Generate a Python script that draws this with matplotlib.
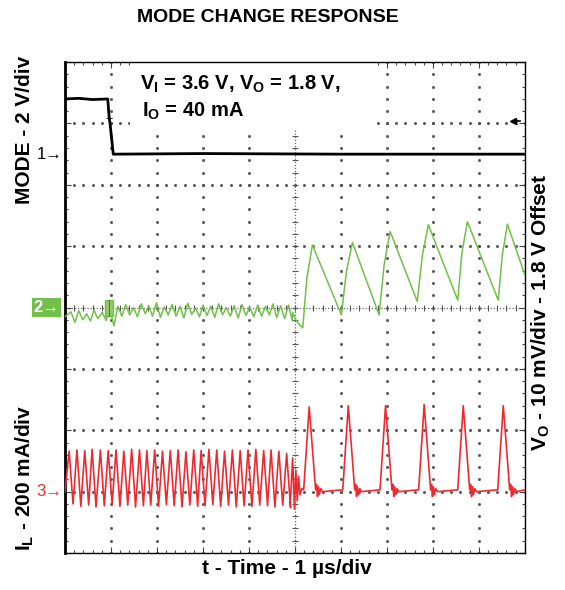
import matplotlib
matplotlib.use('Agg')
import matplotlib.pyplot as plt
import numpy as np
from matplotlib.patches import Rectangle

plt.rcParams['font.family'] = ['Liberation Sans', 'DejaVu Sans']
plt.rcParams['mathtext.fontset'] = 'custom'
plt.rcParams['mathtext.rm'] = 'Liberation Sans:bold'
plt.rcParams['mathtext.it'] = 'Liberation Sans:bold'
plt.rcParams['mathtext.bf'] = 'Liberation Sans:bold'

# all values in scope divisions (x: 0..10, y: 0..8)

# channel 1 - MODE signal
mode_t = [0.0, 0.30, 0.60, 0.93, 0.96, 0.98, 1.05, 3.0, 6.0, 10.0]
mode_v = [7.40, 7.41, 7.39, 7.40, 7.10, 7.00, 6.50, 6.51, 6.50, 6.50]

# PWM part (switching cycles before the mode change)
pwm_t = [0.09, 0.26, 0.43, 0.59, 0.77, 0.94, 1.11, 1.28, 1.45, 1.62,
         1.78, 1.95, 2.12, 2.29, 2.46, 2.63, 2.80, 2.96, 3.13, 3.30,
         3.47, 3.64, 3.81, 3.98, 4.15, 4.32, 4.48, 4.65, 4.82]
il_pwm_peak = [1.66, 1.68, 1.67, 1.69, 1.68, 1.67, 1.68, 1.66, 1.69, 1.68,
               1.67, 1.68, 1.66, 1.67, 1.68, 1.65, 1.68, 1.67, 1.69, 1.68,
               1.66, 1.68, 1.67, 1.68, 1.69, 1.67, 1.68, 1.66, 1.62]
il_pwm_valley = [0.80, 0.76, 0.78, 0.75, 0.77, 0.79, 0.76, 0.78, 0.75, 0.77,
                 0.78, 0.76, 0.79, 0.77, 0.75, 0.78, 0.76, 0.77, 0.79, 0.76,
                 0.78, 0.75, 0.77, 0.76, 0.78, 0.77, 0.75, 0.78, 0.74]
vo_pwm_hi = [3.93, 3.95, 3.90, 3.96, 3.92, 3.97, 4.02, 4.05, 4.00, 4.06,
             4.03, 4.08, 4.01, 4.05, 4.02, 4.07, 3.99, 4.04, 4.02, 4.06,
             4.00, 4.03, 4.05, 4.01, 4.04, 4.02, 4.06, 4.03, 4.04]
vo_pwm_lo = [3.76, 3.80, 3.78, 3.82, 3.79, 3.70, 3.86, 3.88, 3.85, 3.90,
             3.86, 3.84, 3.88, 3.86, 3.83, 3.89, 3.85, 3.87, 3.84, 3.88,
             3.86, 3.83, 3.87, 3.85, 3.86, 3.88, 3.84, 3.82, 3.78]

# transition region
il_trans_t = [4.90, 4.95, 4.99, 5.02, 5.05, 5.08, 5.11, 5.15]
il_trans_v = [0.80, 1.55, 0.72, 1.35, 0.85, 1.25, 0.95, 1.05]
vo_trans_t = [4.95, 5.02, 5.10]
vo_trans_v = [3.92, 3.80, 3.72]

# PFM part - inductor current pulses
pfm_start = [5.19, 6.04, 6.85, 7.69, 8.54, 9.41]
pfm_peak_t = [5.31, 6.16, 6.97, 7.81, 8.66, 9.53]
pfm_peak_v = [2.38, 2.40, 2.40, 2.42, 2.40, 2.40]
pfm_end = [5.45, 6.30, 7.11, 7.95, 8.80, 9.67]
ring_dt = [0.02, 0.04, 0.06, 0.08, 0.11, 0.15]
ring_v = [1.12, 0.92, 1.08, 0.95, 1.05, 1.00]
il_base = 1.03

# PFM part - output voltage sawtooth (trough, knee of the rise, peak)
vo_trough_t = [5.17, 6.01, 6.83, 7.66, 8.54, 9.42]
vo_trough_v = [3.67, 3.88, 3.88, 4.10, 4.12, 4.12]
vo_knee_t = [5.26, 6.12, 6.94, 7.77, 8.63, 9.51]
vo_knee_v = [4.48, 4.59, 4.70, 4.85, 4.89, 4.86]
vo_peak_t = [5.38, 6.25, 7.07, 7.90, 8.75, 9.62]
vo_peak_v = [5.02, 5.06, 5.24, 5.35, 5.40, 5.36]
vo_end = (10.0, 4.53)


def build_il():
    t, v = [0.0], [1.00]
    for tp, pk, vl in zip(pwm_t, il_pwm_peak, il_pwm_valley):
        t += [tp, tp + 0.085]
        v += [pk, vl]
    t += il_trans_t
    v += il_trans_v
    for s, tp, pk, e in zip(pfm_start, pfm_peak_t, pfm_peak_v, pfm_end):
        t += [s, tp, e]
        v += [il_base, pk, il_base]
        t += [e + d for d in ring_dt]
        v += ring_v
    t += [10.0]
    v += [il_base]
    return np.array(t), np.array(v)


def build_vo():
    t, v = [0.0], [3.85]
    for tp, hi, lo in zip(pwm_t, vo_pwm_hi, vo_pwm_lo):
        t += [tp + 0.04, tp + 0.125]
        v += [hi, lo]
    t += vo_trans_t
    v += vo_trans_v
    for tt, tv, kt, kv, pt, pv in zip(vo_trough_t, vo_trough_v, vo_knee_t,
                                      vo_knee_v, vo_peak_t, vo_peak_v):
        t += [tt, kt, pt]
        v += [tv, kv, pv]
    t += [vo_end[0]]
    v += [vo_end[1]]
    return np.array(t), np.array(v)


fig = plt.figure(figsize=(5.65, 5.90), dpi=100)
ax = fig.add_axes([0.115, 0.0627, 0.814, 0.832])
ax.set_xlim(0, 10)
ax.set_ylim(0, 8)

# scope graticule
dot_pos = np.arange(0, 10.01, 0.2)
ys = np.arange(0, 8.01, 0.2)
for gx in range(1, 10):
    if gx == 5:
        continue
    ax.plot(np.full_like(ys, gx), ys, ls='none', marker='s', ms=1.0,
            color='#555555', zorder=1)
for gy in range(1, 8):
    if gy == 4:
        continue
    ax.plot(dot_pos, np.full_like(dot_pos, gy), ls='none', marker='s', ms=1.0,
            color='#555555', zorder=1)
ax.axvline(5, color='#666666', lw=0.9, ls=(0, (1, 1.5)), zorder=1)
ax.axhline(4, color='#666666', lw=0.9, ls=(0, (1, 1.5)), zorder=1)
ax.plot(np.full_like(ys, 5), ys, ls='none', marker='_', ms=4, mew=0.8,
        color='#555555', zorder=1)
ax.plot(dot_pos, np.full_like(dot_pos, 4), ls='none', marker='|', ms=4, mew=0.8,
        color='#555555', zorder=1)

ax.set_xticks(range(0, 11))
ax.set_yticks(range(0, 9))
ax.set_xticks(dot_pos, minor=True)
ax.set_yticks(ys, minor=True)
ax.tick_params(which='both', direction='in', top=True, right=True,
               labelbottom=False, labelleft=False, color='#444444', width=0.8)
ax.tick_params(which='major', length=4)
ax.tick_params(which='minor', length=2.5)
for side in ['top', 'right', 'bottom']:
    ax.spines[side].set_linewidth(1.0)
ax.spines['left'].set_linewidth(2.0)

# white box behind the test conditions
ax.add_patch(Rectangle((1.42, 6.90), 5.30, 1.10, facecolor='white',
                       edgecolor='none', zorder=2))

# traces
ax.plot(mode_t, mode_v, color='black', lw=2.0, zorder=4)
vt, vv = build_vo()
ax.plot(vt, vv, color='#72c04a', lw=1.1, zorder=3)
it, iv = build_il()
ax.plot(it, iv, color='#ee2a30', lw=1.2, zorder=3)

# markers
ax.text(0.96, 7.06, '+', ha='center', va='center', fontsize=9, color='black', zorder=5)
ax.add_patch(Rectangle((0.87, 3.87), 0.18, 0.26, facecolor='#8fcf6a',
                       edgecolor='#72c04a', zorder=5))
ax.plot([0.96, 0.96], [3.87, 4.13], color='#ee2a30', lw=0.8, zorder=6)
ax.plot([9.75], [7.04], marker='<', color='black', ms=5, zorder=5)
ax.plot([9.75, 9.9], [7.04, 7.04], color='black', lw=1.2, zorder=5)

ytr = ax.get_yaxis_transform()
ax.text(-0.006, 6.5, '1\u2192', transform=ytr, ha='right', va='center',
        fontsize=12, color='black')
ax.text(-0.012, 4.0, '2\u2192', transform=ytr, ha='right', va='center',
        fontsize=12, color='white', fontweight='bold',
        bbox=dict(boxstyle='square,pad=0.12', facecolor='#72c04a', edgecolor='none'))
ax.text(-0.006, 1.0, '3\u2192', transform=ytr, ha='right', va='center',
        fontsize=12, color='#ee2a30')

# annotation
ax.text(1.63, 7.63, 'V$_I$ = 3.6 V, V$_O$ = 1.8 V,', fontsize=14.5,
        fontweight='bold', va='center', ha='left', zorder=6)
ax.text(1.67, 7.19, 'I$_O$ = 40 mA', fontsize=14.5,
        fontweight='bold', va='center', ha='left', zorder=6)

# labels
fig.text(0.4735, 1 - 17 / 590, 'MODE CHANGE RESPONSE', ha='center', va='center',
         fontsize=14, fontweight='bold')
fig.text(0.044, 1 - 130 / 590, 'MODE - 2 V/div', rotation=90, ha='center',
         va='center', fontsize=15, fontweight='bold')
fig.text(0.044, 1 - 478 / 590, 'I$_L$ - 200 mA/div', rotation=90, ha='center',
         va='center', fontsize=15, fontweight='bold')
fig.text(0.957, 1 - 312 / 590, 'V$_O$ - 10 mV/div - 1.8 V Offset', rotation=90,
         ha='center', va='center', fontsize=15, fontweight='bold')
fig.text(0.507, 1 - 568 / 590, 't - Time - 1 \u00b5s/div', ha='center',
         va='center', fontsize=15, fontweight='bold')

fig.savefig('out.png', dpi=100)
